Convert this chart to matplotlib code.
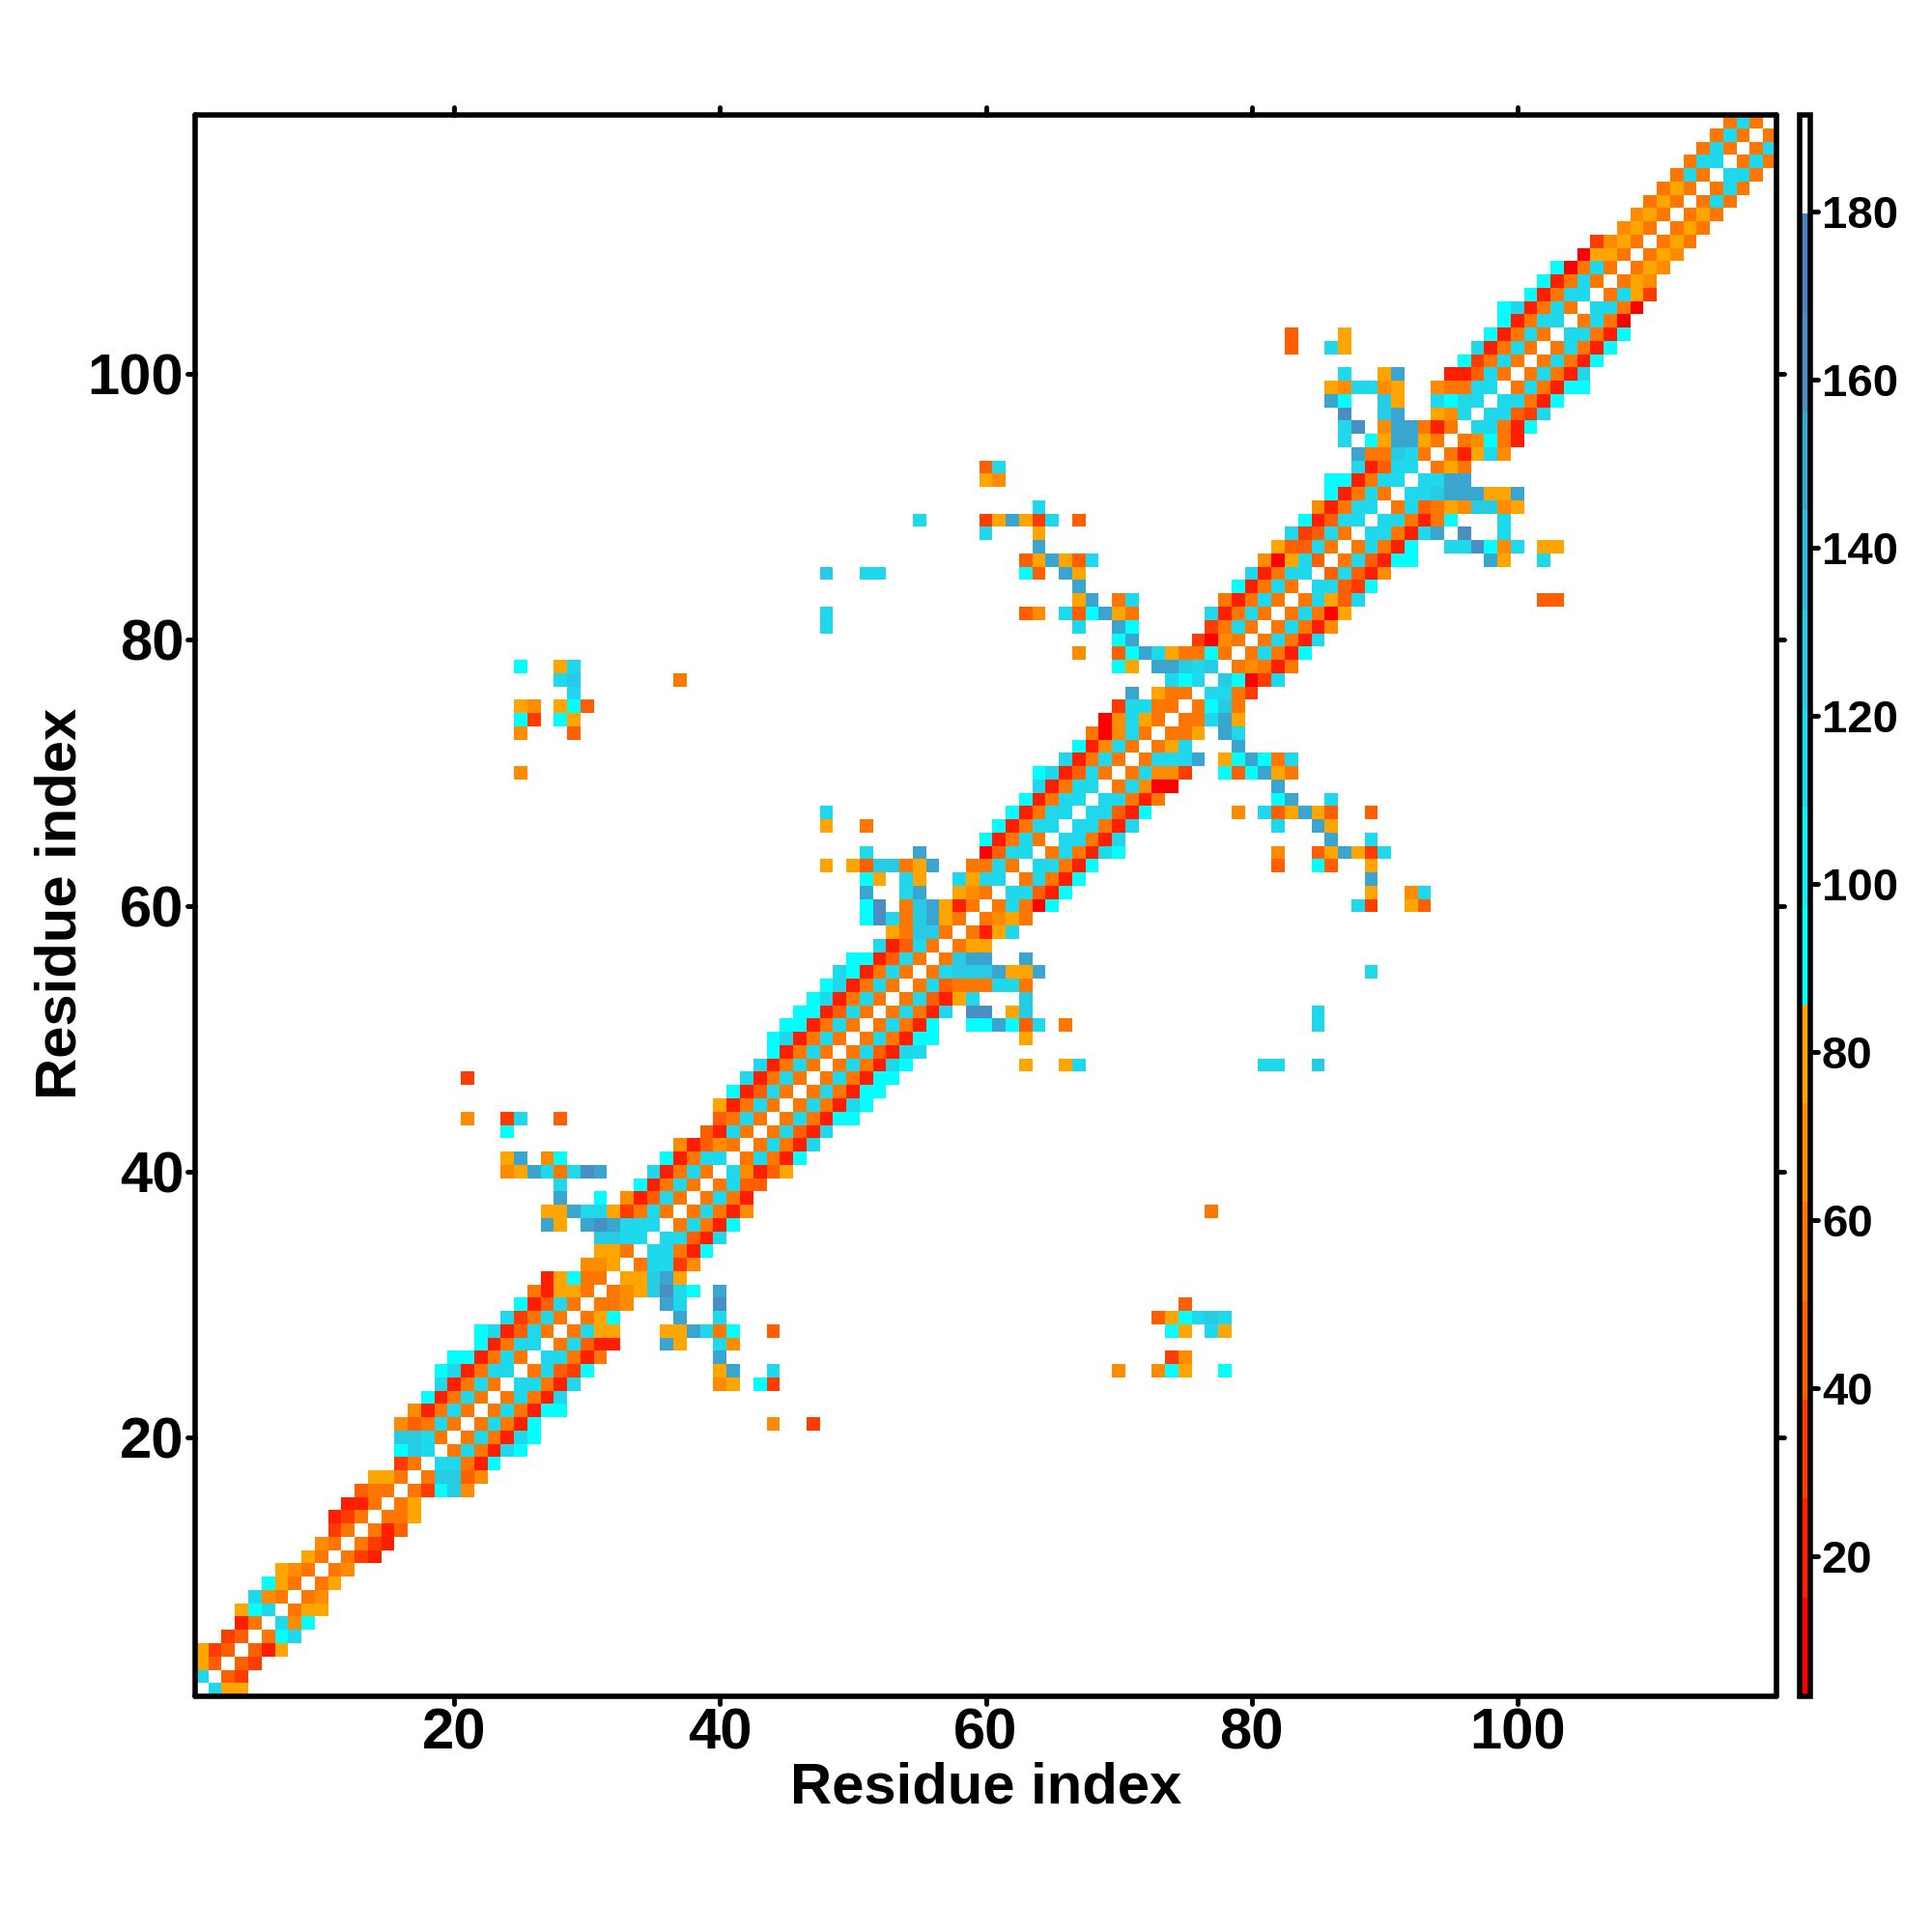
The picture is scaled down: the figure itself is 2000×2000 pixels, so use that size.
import numpy as np
import matplotlib
matplotlib.use("Agg")
import matplotlib.pyplot as plt
from matplotlib.colors import ListedColormap, BoundaryNorm
from matplotlib.markers import MarkerStyle, TICKDOWN, TICKUP, TICKLEFT, TICKRIGHT

plt.rcParams['font.family'] = ['Liberation Sans', 'DejaVu Sans']
plt.rcParams['font.weight'] = 'bold'

n_residues = 119
bin_edges = np.linspace(3.3, 191.5, 17)
bin_colors = ['#FF0000', '#FF1E00', '#FF3C00', '#FF5F00', '#FF7600', '#FF8C00', '#FFA500',
              '#00FFFF', '#10EEF6', '#1FD8EC', '#28CBE4', '#31B8DA', '#3AA6D0', '#4A8EC4', '#4D80BE',
              '#FFFFFF']
code_bin = dict(r=0, s=1, t=2, u=3, v=4, w=5, x=6, c=7, d=9, e=10, f=12, g=13)

# Row i (residue i+1): codes for residues i+2, i+3, ... ; '.' = no value
band_codes = [
 "dxx","ut","ut","usx","vcd","dwc","vxx","vw","vx","vw",
 "vts","vts","vsu","vvx","vx","vtcew","veeuw","ddvsc","vdvsdc","vdvsdc",
 "vdvsc","vdvscc","vdvsd","ddvsd","vdutc","ddvsv","vduss","vdxx","vxc","vvw",
 "vwxegdc.f","xxefx","vddtw","ddvsc","ddusd","vdvsc","vdvsw","vdvs","vduu","dwsux",
 "vdvsc","vdvsd","vdusd","vdvscc","vdvsdc","vdvscc","vdvscc","vdvsdc","vdusdd","vdvscc",
 "vdvsc..ccfcud.v","vdvsd.gg.xe","vdusxd...e","vduvvvddv","vdeeefxxf","veff..f","vxx","vsxd","vwxv","vdvrc",
 "ddusc","vdvsc","ddvsc","vdvsdc","ddvsd","ddvsd","ddusc","ddvsv","vdwrr","vdwwt..cucfxv",
 "vdddf.xcfcvd","vxd...f","vvx.fd","vvdfx","vcev","ddvt","ecrtd","vwvsv","vdvsc","vdvsd",
 "vdvsw","vdvrx","vdxud","ddutc","udusw","vduscc","vdvsc..ddgcwd","ddvsdf.g..d","ddvsvc...d","vduvxweewx",
 "ddefffxxf","ddff","vxv","vsxdw","vwcvs","ddvsc","ddutd","ddvsc","vdvscc","vdvsd",
 "vdvsc","vdvsc","ddvsc","vdvr","ddvr","vdxt","vxw","vxw","vxw","vxv",
 "vxv","vxv","vdv","vdv","ddv","vdv","vd","v",
]

# Far-from-diagonal contacts: residue -> (partner residues, codes)
far_contacts = {
    21: ([44, 47], "wt"),
    24: ([40, 41, 43, 44], "wxct"),
    25: ([40, 41, 44, 70, 73, 74, 75, 78], "xfdwwcxc"),
    26: ([40, 74, 75], "ftw"),
    27: ([36, 37, 40, 41], "fxdw"),
    28: ([36, 37, 38, 39, 40, 41, 44, 74, 75, 77, 78], "xxfdvcucxdx"),
    29: ([37, 40, 73, 74, 75, 76, 77, 78], "fduxcded"),
    30: ([36, 37, 40, 75], "fdgu"),
    37: ([77], "v"),
    48: ([63, 66, 67, 81, 82, 85], "xxddde"),
    50: ([63], "x"),
    51: ([85], "d"),
    52: ([85], "d"),
    55: ([89], "d"),
    60: ([88, 89, 92, 93], "dtxu"),
    61: ([89, 92, 93], "xwd"),
    62: ([89], "f"),
    63: ([82, 85, 86, 89], "ucux"),
    64: ([82, 85, 86, 87, 88, 89, 90], "wuxfxtd"),
    65: ([86, 89], "fd"),
    66: ([82, 85, 86], "dfx"),
    67: ([79, 81, 82, 83, 84, 85, 86, 89], "wduxfxuu"),
    68: ([82, 83, 86], "cfd"),
    69: ([82], "f"),
    83: ([102, 103], "uu"),
    86: ([98, 99, 102], "fxd"),
    87: ([102, 103], "xx"),
}

diagonal_value = 185.0

bin_mid = 0.5 * (bin_edges[:-1] + bin_edges[1:])
M = np.full((n_residues, n_residues), np.nan)
np.fill_diagonal(M, diagonal_value)
for i, row in enumerate(band_codes):
    for off, ch in enumerate(row):
        if ch != '.':
            j = i + 1 + off
            M[i, j] = M[j, i] = bin_mid[code_bin[ch]]
for a, (partners, codes) in far_contacts.items():
    for b, ch in zip(partners, codes):
        M[a-1, b-1] = M[b-1, a-1] = bin_mid[code_bin[ch]]

cmap = ListedColormap(bin_colors)
norm = BoundaryNorm(bin_edges, cmap.N)

W = 2000.0
fig = plt.figure(figsize=(20, 20), dpi=100, facecolor='white')
L, R, T, B = 202.0, 1839.0, 119.0, 1756.0
ax = fig.add_axes([L/W, 1-B/W, (R-L)/W, (B-T)/W])
im = ax.imshow(np.ma.masked_invalid(M), origin='lower', cmap=cmap, norm=norm,
               extent=(0.5, n_residues+0.5, 0.5, n_residues+0.5), aspect='auto',
               interpolation='nearest')
ax.set_xlim(0.5, n_residues+0.5)
ax.set_ylim(0.5, n_residues+0.5)
ticks = [20, 40, 60, 80, 100]
ax.set_xticks(ticks)
ax.set_yticks(ticks)
ax.tick_params(axis='both', which='major', length=5.5, width=3.5, top=True, right=True,
               labelsize=43, pad=3)
for lab in ax.get_xticklabels() + ax.get_yticklabels():
    lab.set_fontweight('bold')
for s in ax.spines.values():
    s.set_linewidth(4)
    s.set_capstyle('round')

def round_ticks(axis, m1, m2):
    for t in axis.get_major_ticks():
        t.tick1line.set_marker(MarkerStyle(m1, capstyle='round'))
        t.tick2line.set_marker(MarkerStyle(m2, capstyle='round'))

round_ticks(ax.xaxis, TICKDOWN, TICKUP)
round_ticks(ax.yaxis, TICKLEFT, TICKRIGHT)

fig.text(1021/W, 1-1851/W, 'Residue index', ha='center', va='center', fontsize=43, fontweight='bold')
fig.text(63/W, 1-935/W, 'Residue index', ha='center', va='center', rotation=90, fontsize=43, fontweight='bold')

cax = fig.add_axes([1863/W, 1-B/W, 11/W, (B-T)/W])
cb = fig.colorbar(im, cax=cax, boundaries=bin_edges, spacing='proportional',
                  ticks=[20, 40, 60, 80, 100, 120, 140, 160, 180], drawedges=False)
cb.outline.set_linewidth(4)
cb.ax.tick_params(length=5.5, width=3.5, labelsize=34, pad=3, right=True, left=False)
cb.ax.minorticks_off()
for lab in cb.ax.get_yticklabels():
    lab.set_fontweight('bold')
for t in cb.ax.yaxis.get_major_ticks():
    t.tick2line.set_marker(MarkerStyle(TICKRIGHT, capstyle='round'))

fig.savefig('out.png', dpi=100, facecolor='white')
